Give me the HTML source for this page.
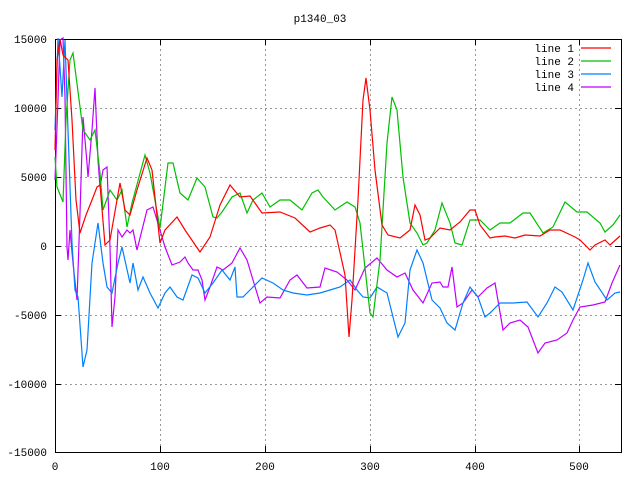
<!DOCTYPE html>
<html><head><style>body{margin:0;background:#fff}svg{display:block}text{font-family:"Liberation Mono","DejaVu Sans Mono",monospace;font-size:11px;fill:#000}</style></head><body>
<svg width="640" height="480" viewBox="0 0 640 480">
<g stroke="#999" stroke-dasharray="2,3" stroke-width="1">
<line x1="160.5" y1="39" x2="160.5" y2="452"/><line x1="265.5" y1="39" x2="265.5" y2="452"/><line x1="370.5" y1="39" x2="370.5" y2="452"/><line x1="475.5" y1="39" x2="475.5" y2="452"/><line x1="579.5" y1="39" x2="579.5" y2="452"/>
<line x1="55" y1="108.5" x2="621" y2="108.5"/><line x1="55" y1="177.5" x2="621" y2="177.5"/><line x1="55" y1="246.5" x2="621" y2="246.5"/><line x1="55" y1="315.5" x2="621" y2="315.5"/><line x1="55" y1="384.5" x2="621" y2="384.5"/>
</g>
<rect x="55.5" y="39.5" width="566" height="413" fill="none" stroke="#000"/>
<g stroke="#000"><path d="M55 108.5h6M55 177.5h6M55 246.5h6M55 315.5h6M55 384.5h6M621 108.5h-6M621 177.5h-6M621 246.5h-6M621 315.5h-6M621 384.5h-6M160.5 452v-6M265.5 452v-6M370.5 452v-6M475.5 452v-6M579.5 452v-6M160.5 39v6M265.5 39v6M370.5 39v6M475.5 39v6M579.5 39v6"/></g>
<g text-anchor="end"><text x="47" y="43">15000</text><text x="47" y="112">10000</text><text x="47" y="181">5000</text><text x="47" y="250">0</text><text x="47" y="319">-5000</text><text x="47" y="388">-10000</text><text x="47" y="456">-15000</text></g>
<g text-anchor="middle"><text x="55" y="470">0</text><text x="160" y="470">100</text><text x="265" y="470">200</text><text x="370" y="470">300</text><text x="475" y="470">400</text><text x="579" y="470">500</text><text x="320" y="22">p1340_03</text></g>
<g text-anchor="end"><text x="574" y="52">line 1</text><text x="574" y="65">line 2</text><text x="574" y="78">line 3</text><text x="574" y="91">line 4</text></g>
<g fill="none" stroke-width="1.2">
<path stroke="#ff0000" d="M581 48h30"/><path stroke="#00c000" d="M581 61h30"/><path stroke="#0080ff" d="M581 74h30"/><path stroke="#c000ff" d="M581 87h30"/>
<polyline stroke="#c000ff" points="55,180 58,100 60,40 63,38 65,97 67,247 68,260 70,230 73,263 77,300 80,213 83,117 87,163 88,177 92,130 95,88 98,160 100,187 103,170 107,167 110,247 112,327 115,297 118,230 122,237 127,230 130,233 133,230 137,250 142,230 147,210 153,207 160,230 165,247 172,265 180,262 185,257 188,263 193,270 198,270 202,280 205,300 210,287 217,267 223,270 232,263 240,248 247,260 253,280 260,303 267,297 280,298 290,280 297,275 307,288 320,287 325,268 337,272 347,280 355,290 365,268 377,258 387,270 397,277 405,273 413,290 423,303 432,283 440,282 443,287 448,287 452,267 457,307 463,303 472,290 478,297 487,288 495,283 503,330 510,323 520,320 528,327 538,353 545,343 557,340 567,333 573,320 580,307 593,305 605,302 612,283 620,265"/>
<polyline stroke="#0080ff" points="55,130 58,38 62,97 65,40 68,130 72,243 75,290 78,297 83,367 87,350 92,263 98,223 103,263 107,287 112,293 118,263 122,247 130,283 133,263 138,290 143,277 150,293 158,308 165,293 170,287 177,297 183,300 192,275 198,278 205,293 213,283 222,270 230,280 235,267 237,297 243,297 250,290 262,278 273,283 283,290 293,293 307,295 320,293 330,290 340,287 350,280 357,290 363,297 370,298 377,287 387,293 392,313 398,337 405,323 410,270 417,250 423,263 432,300 440,308 447,323 455,330 463,303 470,287 478,297 485,317 490,313 500,303 513,303 527,302 538,317 547,303 555,287 562,292 573,310 583,280 588,263 595,282 607,300 615,293 620,292"/>
<polyline stroke="#00c000" points="55,157 57,187 63,202 66,120 70,60 73,53 83,130 90,140 95,130 100,173 103,210 110,190 117,200 122,190 127,227 132,203 145,155 150,173 160,228 168,163 173,163 180,193 188,200 197,178 205,187 213,217 217,218 222,212 232,197 240,193 247,213 253,200 262,193 270,207 280,200 290,200 302,210 312,193 318,190 323,197 335,210 347,202 355,207 360,223 370,313 373,317 380,260 387,143 392,97 397,110 403,177 410,223 417,233 423,245 427,243 435,230 442,203 450,223 455,243 462,245 470,220 480,220 490,230 500,223 510,223 523,213 530,213 543,233 553,227 565,202 577,212 587,212 600,223 605,232 613,225 620,215"/>
<polyline stroke="#ff0000" points="55,150 57,60 60,39 63,55 68,60 72,120 76,200 80,233 86,215 92,200 97,187 100,185 105,245 110,240 117,200 120,183 125,210 130,215 137,190 147,158 152,170 160,243 165,230 177,217 185,230 200,252 210,237 220,205 230,185 240,197 250,196 262,213 280,212 295,218 310,232 320,228 330,225 335,230 345,275 349,337 352,300 358,200 363,100 366,78 370,110 375,170 382,225 388,235 400,238 410,230 415,205 420,215 425,240 430,238 440,228 450,230 460,222 470,210 475,210 480,225 490,238 495,237 505,236 515,238 525,235 540,236 550,230 560,230 575,237 580,240 590,250 595,245 605,240 610,245 620,236"/>
</g>
</svg>
</body></html>
